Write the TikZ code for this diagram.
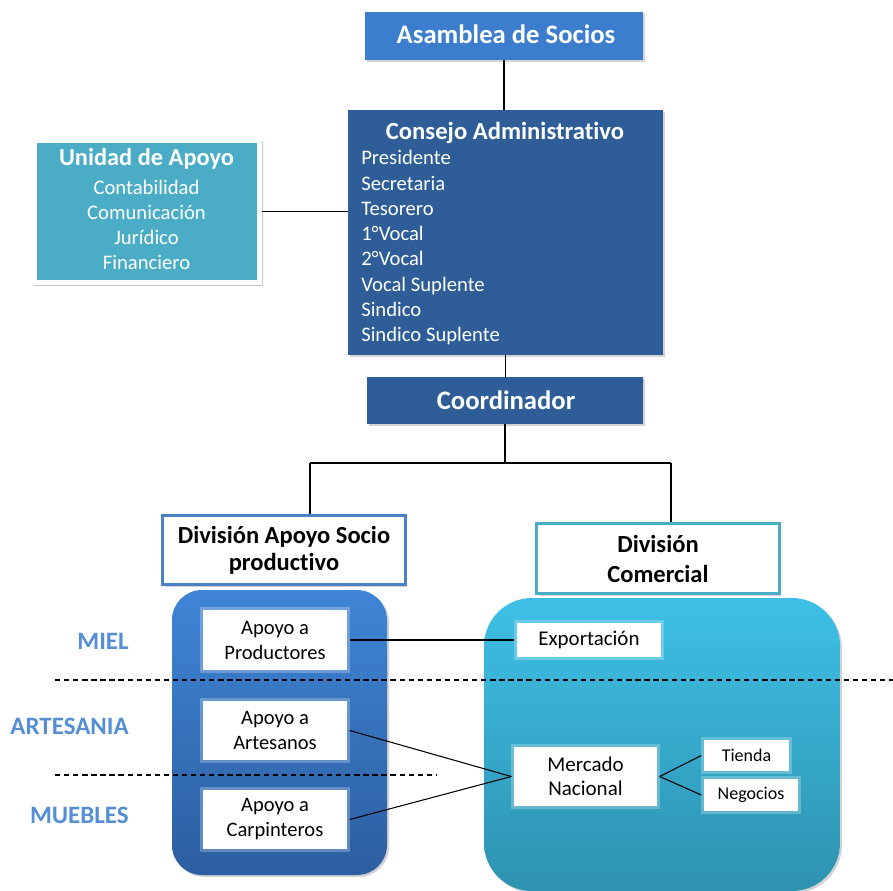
\documentclass[tikz,border=0pt]{standalone}
\usepackage{fontspec}
\setmainfont{Carlito}[Ligatures={NoCommon}]
\usetikzlibrary{shadows}
\definecolor{asamblue}{RGB}{60,125,205}
\definecolor{darkblue}{RGB}{46,93,152}
\definecolor{tealbox}{RGB}{75,172,198}
\definecolor{divblue}{RGB}{74,128,200}
\definecolor{divteal}{RGB}{75,172,198}
\definecolor{labblue}{RGB}{85,142,213}
\definecolor{lbtop}{RGB}{64,133,214}
\definecolor{lbbot}{RGB}{44,94,160}
\definecolor{rbtop}{RGB}{62,192,230}
\definecolor{rbbot}{RGB}{46,146,176}
\begin{document}
\begin{tikzpicture}[x=0.75pt,y=-0.75pt,
  shad/.style={drop shadow={shadow xshift=1.5pt,shadow yshift=-1.5pt,opacity=0.35}},
  headbox/.style={shad,text=white,inner sep=0pt,font=\fontsize{20}{24}\selectfont\bfseries},
  ttl/.style={text=white,inner sep=0pt,font=\fontsize{18.5}{22}\selectfont\bfseries},
  itm/.style={text=white,inner sep=0pt,font=\fontsize{15.5}{19}\selectfont},
  divbox/.style={shad,fill=white,line width=2.25pt,inner sep=0pt,align=center},
  bigbox/.style={inner sep=0pt},
  wbox/.style={fill=white,draw=white,draw opacity=0.25,line width=4pt,inner sep=0pt,align=center,font=\fontsize{15.4}{18.75}\selectfont},
  lab/.style={text=labblue,inner sep=0pt,font=\fontsize{18.75}{22}\selectfont\bfseries},
  conn/.style={draw=black,line width=0.8pt},
  dline/.style={draw=black,line width=0.8pt,dash pattern=on 4pt off 2.8pt}]
\useasboundingbox (0,0) rectangle (893,891);

% top boxes
\node[headbox,fill=asamblue,minimum width=208.5pt,minimum height=36pt] (asam) at (504,36) {};
\node[text=white,inner sep=0pt,font=\fontsize{20}{24}\selectfont\bfseries,anchor=base] (asamt) at (506,44) {Asamblea de Socios};

\node[shad,fill=darkblue,inner sep=0pt,minimum width=236.25pt,minimum height=183.75pt] (cons) at (505.5,232.5) {};
\node[ttl,anchor=base] (const) at (505,139.3) {Consejo Administrativo};
\foreach \t [count=\i] in {Presidente,Secretaria,Tesorero,1°Vocal,2°Vocal,Vocal Suplente,Sindico,Sindico Suplente}
  \node[itm,anchor=base west] (ci\i) at (361,{165+25.24*(\i-1)}) {\t};

\node[drop shadow={shadow xshift=1pt,shadow yshift=-1.5pt,shadow scale=1.015,opacity=0.45},fill=tealbox,draw=white,line width=4pt,inner sep=0pt,minimum width=169pt,minimum height=107pt] (uni) at (147,211.5) {};
\node[text=white,inner sep=0pt,font=\fontsize{18.3}{22}\selectfont\bfseries,anchor=base] (unit) at (146.5,166) {Unidad de Apoyo};
\foreach \t [count=\i] in {Contabilidad,Comunicación,Jurídico,Financiero}
  \node[itm,anchor=base] (ui\i) at (146.5,{195+24.7*(\i-1)}) {\t};

\node[headbox,fill=darkblue,minimum width=207pt,minimum height=35.25pt] (coord) at (505,400.5) {};
\node[text=white,inner sep=0pt,font=\fontsize{20}{24}\selectfont\bfseries,anchor=base] (coordt) at (506,410) {Coordinador};

% division boxes
\node[divbox,draw=divblue,minimum width=182pt,minimum height=52pt,font=\fontsize{18.4}{20}\selectfont\bfseries] (dap) at (284,550) {División Apoyo Socio\\productivo};
\node[divbox,draw=divteal,minimum width=182pt,minimum height=53pt,font=\fontsize{18.4}{22.5}\selectfont\bfseries] (dcom) at (658,558.5) {División\\Comercial};

% big rounded boxes
\node[bigbox,shad,rounded corners=22.5pt,top color=lbtop,bottom color=lbbot,minimum width=161.25pt,minimum height=213.75pt] (lbig) at (279.5,732.5) {};
\node[bigbox,shad,rounded corners=36pt,top color=rbtop,bottom color=rbbot,minimum width=267pt,minimum height=219.75pt] (rbig) at (662,744.5) {};

% dashed separators
\coordinate (d1a) at (55,680);
\coordinate (d1b) at (893,680);
\coordinate (d2a) at (55,775);
\coordinate (d2b) at (436,775);
\draw[dline] (d1a) -- (d1b);
\draw[dline] (d2a) -- (d2b);

% white boxes
\node[wbox,minimum width=108pt,minimum height=45pt] (prod) at (275,640) {Apoyo a\\Productores};
\node[wbox,minimum width=108pt,minimum height=44.25pt] (art) at (275,730.5) {Apoyo a\\Artesanos};
\node[wbox,minimum width=108pt,minimum height=44.25pt] (carp) at (275,819.5) {Apoyo a\\Carpinteros};
\node[wbox,minimum width=108pt,minimum height=25.5pt,font=\fontsize{15.7}{18.75}\selectfont] (exp) at (589,640) {Exportación};
\node[wbox,minimum width=107.25pt,minimum height=44.25pt,font=\fontsize{15.75}{18}\selectfont] (mer) at (585.5,776.5) {Mercado\\Nacional};
\node[wbox,minimum width=63.75pt,minimum height=23.25pt,font=\fontsize{13.5}{16}\selectfont] (tie) at (746.5,755.5) {Tienda};
\node[wbox,minimum width=70.5pt,minimum height=24pt,font=\fontsize{13.5}{16}\selectfont] (neg) at (751,795) {Negocios};

% labels
\node[lab,anchor=base east] (miel) at (129,649) {MIEL};
\node[lab,anchor=base east] (artes) at (129,734) {ARTESANIA};
\node[lab,anchor=base east] (mueb) at (129,823) {MUEBLES};

% connectors
\draw[conn] (asam.south) -- (asam.south |- cons.north);
\draw[conn] (uni.east) -- (uni.east -| cons.west);
\draw[conn] (cons.south) -- (cons.south |- coord.north);
\coordinate (jl) at (310,463);
\coordinate (jr) at (671,463);
\draw[conn] (coord.south) -- (coord.south |- jl);
\draw[conn] (jl) -- (jr);
\draw[conn] (jl) -- (jl |- dap.north);
\draw[conn] (jr) -- (jr |- dcom.north);
\draw[conn] (prod.east) -- (exp.west);
\draw[conn] (art.east) -- (mer.west);
\draw[conn] (carp.east) -- (mer.west);
\draw[conn] (mer.east) -- (tie.west);
\draw[conn] (mer.east) -- (neg.west);
\end{tikzpicture}
\end{document}
